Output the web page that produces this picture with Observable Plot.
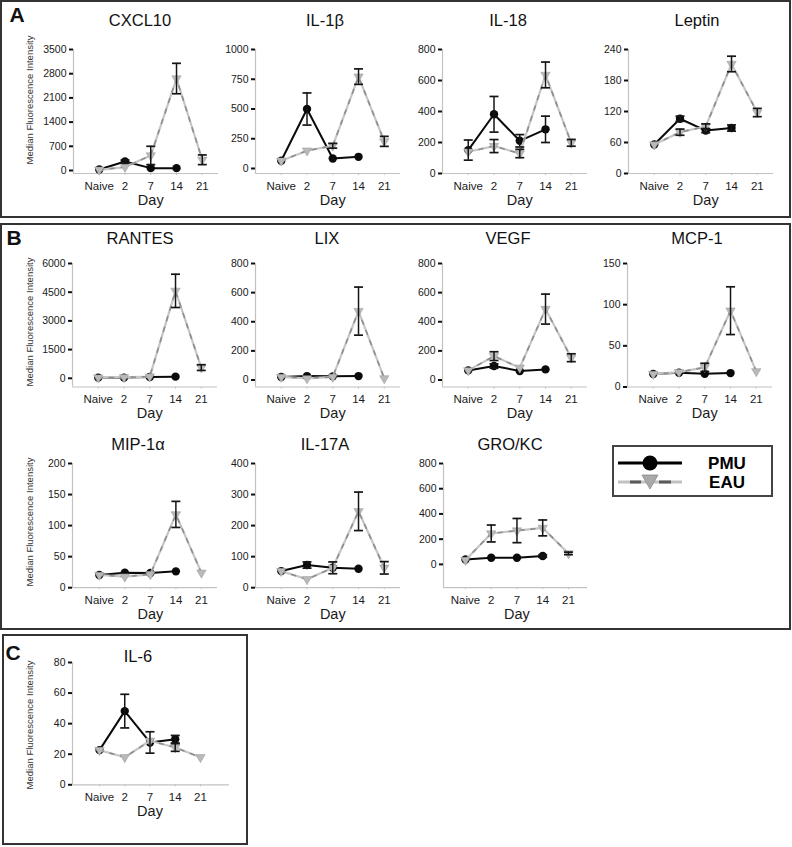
<!DOCTYPE html>
<html><head><meta charset="utf-8">
<script src="https://cdn.jsdelivr.net/npm/d3@7"></script>
<script src="https://cdn.jsdelivr.net/npm/@observablehq/plot@0.6"></script>
<style>
body{margin:0;background:#fff;font-family:"Liberation Sans",Arial,sans-serif;}
#root{position:relative;width:792px;height:847px;overflow:hidden;background:#fff;}
.box{position:absolute;border:2px solid #333;box-sizing:border-box;}
.title{position:absolute;transform:translate(-50%,-50%);font-size:16.5px;white-space:nowrap;color:#111;}
.letter{position:absolute;transform:translate(-50%,-50%);font-size:21px;font-weight:bold;color:#111;}
.ylab{position:absolute;transform:translate(-50%,-50%) rotate(-90deg);font-size:9.5px;white-space:nowrap;color:#333;}
</style></head><body><div id="root"></div>
<script>
// ---------- data ----------
const days = ["Naive","2","7","14","21"];
const seriesNames = ["PMU","EAU"];
const analytes = ["CXCL10","IL-1β","IL-18","Leptin","RANTES","LIX","VEGF","MCP-1","MIP-1α","IL-17A","GRO/KC","IL-6"];
const yLabel = "Median Fluorescence Intensity";
const xLabel = "Day";

const cxcl10PMU = [30,261,68,68,null];    const cxcl10PMUErr = [0,40,0,0,null];
const cxcl10EAU = [20,100,435,2660,310];  const cxcl10EAUErr = [0,0,265,440,140];
const cxcl10Ticks = [0,700,1400,2100,2800,3500];

const il1bPMU = [65,500,84,98,null];      const il1bPMUErr = [0,135,0,0,null];
const il1bEAU = [65,150,191,772,228];     const il1bEAUErr = [0,0,20,65,42];
const il1bTicks = [0,250,500,750,1000];

const il18PMU = [151,382,211,285,null];   const il18PMUErr = [65,115,40,85,null];
const il18EAU = [140,177,129,636,198];    const il18EAUErr = [0,42,27,83,22];
const il18Ticks = [0,200,400,600,800];

const leptinPMU = [56,106,83,88,null];    const leptinPMUErr = [0,5,4,6,null];
const leptinEAU = [56,80,91,212,118];     const leptinEAUErr = [0,6,5,15,8];
const leptinTicks = [0,60,120,180,240];

const rantesPMU = [35,35,70,87,null];     const rantesPMUErr = [0,0,0,0,null];
const rantesEAU = [35,52,87,4570,560];    const rantesEAUErr = [0,0,0,870,150];
const rantesTicks = [0,1500,3000,4500,6000];

const lixPMU = [21,27,25,27,null];        const lixPMUErr = [0,0,0,0,null];
const lixEAU = [21,11,21,473,11];         const lixEAUErr = [0,0,0,165,0];
const lixTicks = [0,200,400,600,800];

const vegfPMU = [66,96,62,73,null];       const vegfPMUErr = [0,15,0,0,null];
const vegfEAU = [66,164,84,487,153];      const vegfEAUErr = [0,30,0,103,27];
const vegfTicks = [0,200,400,600,800];

const mcp1PMU = [15.7,17.3,16.1,16.9,null]; const mcp1PMUErr = [0,0,0,0,null];
const mcp1EAU = [15.7,18,23.8,92.7,19];     const mcp1EAUErr = [0,0,5,29,0];
const mcp1Ticks = [0,50,100,150];

const mip1aPMU = [20.4,24,23.7,26.3,null]; const mip1aPMUErr = [0,0,0,0,null];
const mip1aEAU = [20.4,17.7,21.5,118,24];  const mip1aEAUErr = [0,0,0,21,0];
const mip1aTicks = [0,50,100,150,200];

const il17aPMU = [53.5,73,64,61,null];    const il17aPMUErr = [0,10,0,0,null];
const il17aEAU = [53.5,27,64,246,64];     const il17aEAUErr = [0,0,19,62,20];
const il17aTicks = [0,100,200,300,400];

const grokcPMU = [39,53,53,66,null];      const grokcPMUErr = [0,0,0,10,null];
const grokcEAU = [34,245,268,289,87];     const grokcEAUErr = [0,67,96,63,10];
const grokcTicks = [0,200,400,600,800];

const il6PMU = [22.7,48.2,27.7,29.8,null]; const il6PMUErr = [0,11,7,2.5,null];
const il6EAU = [22.7,18,28.8,24.4,18];     const il6EAUErr = [0,0,0,2.5,0];
const il6Ticks = [0,20,40,60,80];

// ---------- layout ----------
const root = document.getElementById("root");
function addDiv(cls, text, css){ const d=document.createElement("div"); d.className=cls; if(text!=null) d.textContent=text; Object.assign(d.style,css); root.appendChild(d); return d; }

addDiv("box",null,{left:"0px",top:"0px",width:"791px",height:"218px"});
addDiv("box",null,{left:"0px",top:"223px",width:"791px",height:"407px"});
addDiv("box",null,{left:"2px",top:"634px",width:"246px",height:"211px"});
addDiv("letter","A",{left:"17px",top:"15px"});
addDiv("letter","B",{left:"14px",top:"238px"});
addDiv("letter","C",{left:"13px",top:"653px"});
[100,322,522,725].forEach(y=>addDiv("ylab",yLabel,{left:"29px",top:y+"px"}));

const capSymbol = {draw(ctx,size){const w=Math.sqrt(size/Math.PI); ctx.moveTo(-w,0); ctx.lineTo(w,0);}};

function rows(vals, errs){ return days.map((d,k)=>({i:k+1, v:vals[k], e:errs[k]})).filter(r=>r.v!=null); }

function panel(cfg){
  const {title, tx, ty, x0, yTop, yAxis, frameW, xdom, ydom, ticks, pmu, pmuErr, eau, eauErr} = cfg;
  const mL=46, mR=8, mT=8, mB=44;
  const P = rows(pmu,pmuErr), E = rows(eau,eauErr);
  const errs = [...P, ...E].filter(r=>r.e>0).map(r=>({i:r.i, lo:r.v-r.e, hi:r.v+r.e}));
  const caps = errs.flatMap(r=>[{i:r.i,y:r.lo},{i:r.i,y:r.hi}]);
  const plot = Plot.plot({
    width: mL+frameW+mR, height: mT+(yAxis-yTop)+mB,
    marginLeft:mL, marginRight:mR, marginTop:mT, marginBottom:mB,
    x:{type:"linear", domain:xdom},
    y:{type:"linear", domain:ydom},
    style:{fontFamily:'"Liberation Sans",Arial,sans-serif', background:"transparent", color:"#1a1a1a", overflow:"visible"},
    marks:[
      Plot.ruleX([xdom[0]], {stroke:"#c2c2c2", strokeWidth:1.2}),
      Plot.ruleY([ydom[0]], {stroke:"#c2c2c2", strokeWidth:1.2}),
      Plot.axisY({ticks, tickFormat:d=>String(d), tickSize:4, tickPadding:3, stroke:"#111", strokeWidth:2, fontSize:10.5, label:null}),
      Plot.axisX({ticks:[1,2,3,4,5], tickFormat:i=>days[i-1], tickSize:2, tickPadding:6, stroke:"#c2c2c2", fontSize:11.5, label:null}),
      Plot.text([xLabel], {x:()=>3, text:d=>d, frameAnchor:"bottom", dy:31, fontSize:14.5}),
      Plot.line(P, {x:"i", y:"v", stroke:"#0a0a0a", strokeWidth:2}),
      Plot.dot(P, {x:"i", y:"v", r:4.2, fill:"#0a0a0a"}),
      Plot.line(E, {x:"i", y:"v", stroke:"#c6c6c6", strokeWidth:2.2}),
      Plot.line(E, {x:"i", y:"v", stroke:"#8e8e8e", strokeWidth:1.6, strokeDasharray:"4,7"}),
      Plot.dot(E, {x:"i", y:"v", symbol:"triangle", rotate:180, r:3.5, fill:"#b9b9b9", stroke:"#9a9a9a", strokeWidth:0.5}),
      Plot.ruleX(errs, {x:"i", y1:"lo", y2:"hi", stroke:"#151515", strokeWidth:1.5}),
      Plot.dot(caps, {x:"i", y:"y", symbol:capSymbol, r:4.5, stroke:"#151515", strokeWidth:1.7})
    ]
  });
  plot.style.position="absolute";
  plot.style.left=(x0-mL)+"px";
  plot.style.top=(yTop-mT)+"px";
  root.appendChild(plot);
  addDiv("title", title, {left:tx+"px", top:ty+"px"});
}

const XD = [0,5.63];
const rowA = {yTop:49, yAxis:173};
const rowB1 = {yTop:262.5, yAxis:386};
const rowB2 = {yTop:462.5, yAxis:586.7};
const rowC = {yTop:662, yAxis:784.3};

panel({...rowA, title:analytes[0], tx:140, ty:20, x0:73, frameW:145, xdom:XD, ydom:[-87,3500], ticks:cxcl10Ticks, pmu:cxcl10PMU, pmuErr:cxcl10PMUErr, eau:cxcl10EAU, eauErr:cxcl10EAUErr});
panel({...rowA, title:analytes[1], tx:325, ty:20, x0:255, frameW:145, xdom:XD, ydom:[-42,1000], ticks:il1bTicks, pmu:il1bPMU, pmuErr:il1bPMUErr, eau:il1bEAU, eauErr:il1bEAUErr});
panel({...rowA, title:analytes[2], tx:508, ty:20, x0:442, frameW:145, xdom:XD, ydom:[0,800], ticks:il18Ticks, pmu:il18PMU, pmuErr:il18PMUErr, eau:il18EAU, eauErr:il18EAUErr});
panel({...rowA, title:analytes[3], tx:697, ty:20, x0:628, frameW:145, xdom:XD, ydom:[0,240], ticks:leptinTicks, pmu:leptinPMU, pmuErr:leptinPMUErr, eau:leptinEAU, eauErr:leptinEAUErr});

panel({...rowB1, title:analytes[4], tx:140, ty:238, x0:72, frameW:145, xdom:XD, ydom:[-455,6000], ticks:rantesTicks, pmu:rantesPMU, pmuErr:rantesPMUErr, eau:rantesEAU, eauErr:rantesEAUErr});
panel({...rowB1, title:analytes[5], tx:327, ty:238, x0:255, frameW:145, xdom:XD, ydom:[-48,800], ticks:lixTicks, pmu:lixPMU, pmuErr:lixPMUErr, eau:lixEAU, eauErr:lixEAUErr});
panel({...rowB1, title:analytes[6], tx:508, ty:238, x0:442, frameW:145, xdom:XD, ydom:[-48,800], ticks:vegfTicks, pmu:vegfPMU, pmuErr:vegfPMUErr, eau:vegfEAU, eauErr:vegfEAUErr});
panel({...rowB1, title:analytes[7], tx:697, ty:238, x0:627, frameW:145, xdom:XD, ydom:[0,150], ticks:mcp1Ticks, pmu:mcp1PMU, pmuErr:mcp1PMUErr, eau:mcp1EAU, eauErr:mcp1EAUErr});

panel({...rowB2, title:analytes[8], tx:138, ty:444, x0:72, frameW:145, xdom:[-0.05,5.63], ticks:mip1aTicks, pmu:mip1aPMU, pmuErr:mip1aPMUErr, eau:mip1aEAU, eauErr:mip1aEAUErr, ydom:[0,200]});
panel({...rowB2, title:analytes[9], tx:325, ty:444, x0:255, frameW:145, xdom:XD, ydom:[0,400], ticks:il17aTicks, pmu:il17aPMU, pmuErr:il17aPMUErr, eau:il17aEAU, eauErr:il17aEAUErr});
panel({...rowB2, title:analytes[10], tx:510, ty:444, x0:443, frameW:144, xdom:[0.146,5.74], ydom:[-185,800], ticks:grokcTicks, pmu:grokcPMU, pmuErr:grokcPMUErr, eau:grokcEAU, eauErr:grokcEAUErr});

panel({...rowC, title:analytes[11], tx:138, ty:656, x0:72, frameW:157, xdom:[-0.07,6.15], ydom:[0,80], ticks:il6Ticks, pmu:il6PMU, pmuErr:il6PMUErr, eau:il6EAU, eauErr:il6EAUErr});

// ---------- legend ----------
const lg = document.createElement("div");
Object.assign(lg.style,{position:"absolute",left:"612px",top:"445px",width:"161px",height:"52px",border:"2px solid #444",boxSizing:"border-box",background:"#fff"});
root.appendChild(lg);
const svg = d3.select(root).append("svg").attr("width",161).attr("height",52)
  .style("position","absolute").style("left","612px").style("top","445px");
svg.append("line").attr("x1",6).attr("x2",70).attr("y1",18).attr("y2",18).attr("stroke","#000").attr("stroke-width",3);
svg.append("circle").attr("cx",38).attr("cy",18).attr("r",7.5).attr("fill","#000");
svg.append("line").attr("x1",6).attr("x2",70).attr("y1",37).attr("y2",37).attr("stroke","#c2c2c2").attr("stroke-width",3);
svg.append("line").attr("x1",18).attr("x2",29).attr("y1",37).attr("y2",37).attr("stroke","#5a5a5a").attr("stroke-width",3);
svg.append("line").attr("x1",47).attr("x2",59).attr("y1",37).attr("y2",37).attr("stroke","#5a5a5a").attr("stroke-width",3);
svg.append("path").attr("d","M30,30 L46,30 L38,44 Z").attr("fill","#a9a9a9").attr("stroke","#8c8c8c").attr("stroke-width",0.8);
svg.append("text").attr("x",115).attr("y",18).attr("dy","0.36em").attr("text-anchor","middle")
  .attr("font-size",17).attr("font-weight","bold").attr("font-family",'"Liberation Sans",Arial,sans-serif').text(seriesNames[0]);
svg.append("text").attr("x",115).attr("y",37).attr("dy","0.36em").attr("text-anchor","middle")
  .attr("font-size",17).attr("font-weight","bold").attr("font-family",'"Liberation Sans",Arial,sans-serif').text(seriesNames[1]);
</script></body></html>
